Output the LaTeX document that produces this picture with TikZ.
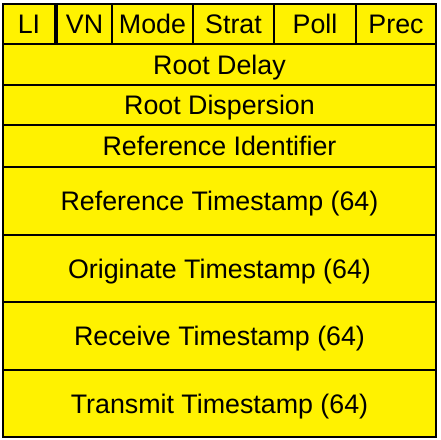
\documentclass[tikz,border=0pt]{standalone}
\usepackage{fontspec}
\setmainfont{Liberation Sans}
\begin{document}
\begin{tikzpicture}[x=1pt,y=-1pt,
  cell/.style={draw=black, line width=2pt, fill=yellow, inner sep=0pt,
    font=\fontsize{26.8}{30}\selectfont, text=black,
    text height=19pt, text depth=0pt}]
% page extent
\useasboundingbox (0,0) rectangle (441,439);
\fill[white] (0,0) rectangle (441,439);
% header row: small fields
\node[cell, minimum width=52pt, minimum height=40pt] (li)    at (29,24)    {LI};
\node[cell, minimum width=55pt, minimum height=40pt] (vn)    at (84.5,24)  {VN};
\node[cell, minimum width=81pt, minimum height=40pt] (mode)  at (152.5,24) {Mode};
\node[cell, minimum width=81pt, minimum height=40pt] (strat) at (233.5,24) {Strat};
\node[cell, minimum width=82pt, minimum height=40pt] (poll)  at (315,24)   {Poll};
\node[cell, minimum width=80pt, minimum height=40pt] (prec)  at (396,24)   {Prec};
% 32-bit fields
\node[cell, minimum width=433pt, minimum height=41pt] (delay) at (219.5,64.5)  {Root Delay};
\node[cell, minimum width=433pt, minimum height=40pt] (disp)  at (219.5,105)   {Root Dispersion};
\node[cell, minimum width=433pt, minimum height=42pt] (refid) at (219.5,146)   {Reference Identifier};
% 64-bit timestamps
\node[cell, minimum width=433pt, minimum height=68pt] (refts)  at (219.5,201)   {Reference Timestamp (64)};
\node[cell, minimum width=433pt, minimum height=67pt] (origts) at (219.5,268.5) {Originate Timestamp (64)};
\node[cell, minimum width=433pt, minimum height=68pt] (recvts) at (219.5,336)   {Receive Timestamp (64)};
\node[cell, minimum width=433pt, minimum height=67pt] (xmitts) at (219.5,403.5) {Transmit Timestamp (64)};
\end{tikzpicture}
\end{document}
